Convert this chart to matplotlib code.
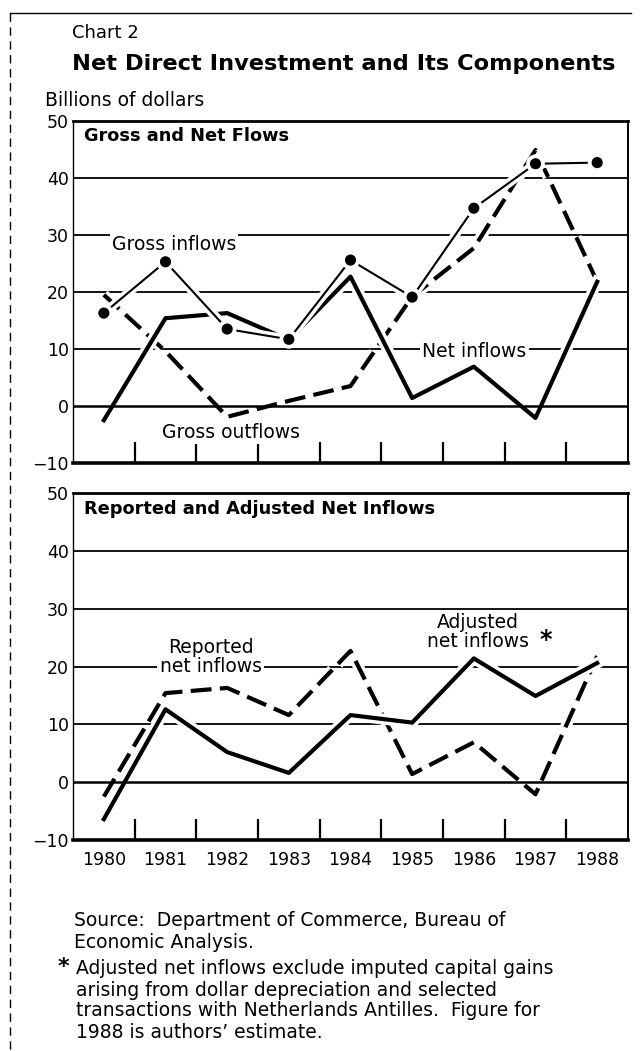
import matplotlib
matplotlib.use("Agg")
from matplotlib import pyplot as plt
from matplotlib import patheffects as pe
from matplotlib.lines import Line2D

plt.rcParams['font.family'] = ['DejaVu Sans']

# --- data (billions of dollars) ---
years = ['1980', '1981', '1982', '1983', '1984', '1985', '1986', '1987', '1988']
gross_inflows = [16.3, 25.3, 13.5, 11.7, 25.6, 19.1, 34.7, 42.5, 42.7]
gross_outflows = [19.5, 9.6, -1.9, 0.9, 3.5, 19.2, 27.7, 44.9, 21.8]
net_inflows = [-2.5, 15.4, 16.3, 11.6, 22.7, 1.4, 6.9, -2.1, 21.8]
adjusted_net = [-6.4, 12.6, 5.2, 1.6, 11.6, 10.3, 21.4, 14.9, 20.6]
reported_net = net_inflows
y_ticks = [-10, 0, 10, 20, 30, 40, 50]
y_labels = ['\u221210', '0', '10', '20', '30', '40', '50']

W, H = 642, 1051
fig = plt.figure(figsize=(W / 100, H / 100), dpi=100)


def px_axes(left, top, right, bottom):
    return fig.add_axes([left / W, 1 - bottom / H, (right - left) / W, (bottom - top) / H])


def halo(lw):
    return [pe.Stroke(linewidth=lw + 5, foreground='white'), pe.Normal()]


def setup(ax, show_years):
    x = list(range(len(years)))
    ax.set_xlim(-0.5, len(years) - 0.5)
    ax.set_ylim(-10, 50)
    ax.set_xticks(x)
    ax.set_xticks([i + 0.5 for i in x[:-1]], minor=True)
    ax.tick_params(axis='x', which='major', length=0, pad=8, labelsize=12.5)
    ax.tick_params(axis='x', which='minor', direction='in', length=15, width=1.6)
    if show_years:
        ax.set_xticklabels(years)
    else:
        ax.set_xticklabels([])
    ax.set_yticks(y_ticks)
    ax.set_yticklabels(y_labels)
    ax.tick_params(axis='y', length=0, pad=3, labelsize=12.5)
    for v in [10, 20, 30, 40]:
        ax.axhline(v, color='black', lw=1.3, zorder=1)
    ax.axhline(0, color='black', lw=1.8, zorder=5)
    ax.spines['left'].set_linewidth(1.0)
    ax.spines['right'].set_linewidth(1.4)
    ax.spines['top'].set_linewidth(2.0)
    ax.spines['bottom'].set_linewidth(2.6)
    for s in ax.spines.values():
        s.set_zorder(6)
    return x


dash = (0, (5, 2))
LW = 3.0

# --- top panel ---
ax1 = px_axes(73, 121, 628, 463)
x = setup(ax1, False)
ax1.plot(x, gross_outflows, color='black', lw=LW, linestyle=dash, zorder=3,
         path_effects=halo(LW))
ax1.plot(x, net_inflows, color='black', lw=LW, zorder=3, path_effects=halo(LW))
ax1.plot(x, gross_inflows, color='black', lw=1.5, marker='o', ms=7, zorder=4,
         path_effects=halo(1.5))
ax1.text(0.02, 0.955, 'Gross and Net Flows', transform=ax1.transAxes, fontsize=12.8,
         fontweight='bold', va='center', ha='left')
box = dict(facecolor='white', edgecolor='none', pad=1.5)
ax1.text(1.14, 28.3, 'Gross inflows', fontsize=13.5, ha='center', va='center',
         zorder=2, bbox=box)
ax1.text(6.01, 9.6, 'Net inflows', fontsize=13.5, ha='center', va='center',
         zorder=2, bbox=box)
ax1.text(2.06, -4.7, 'Gross outflows', fontsize=13.5, ha='center', va='center',
         zorder=2, bbox=box)

# --- bottom panel ---
ax2 = px_axes(73, 493, 628, 840)
x = setup(ax2, True)
ax2.plot(x, reported_net, color='black', lw=LW, linestyle=dash, zorder=3,
         path_effects=halo(LW))
ax2.plot(x, adjusted_net, color='black', lw=LW, zorder=3, path_effects=halo(LW))
ax2.text(0.02, 0.955, 'Reported and Adjusted Net Inflows', transform=ax2.transAxes,
         fontsize=12.8, fontweight='bold', va='center', ha='left')
ax2.text(1.73, 21.6, 'Reported\nnet inflows', fontsize=13.5, ha='center', va='center',
         linespacing=1.0, zorder=2, bbox=box)
ax2.text(6.07, 25.9, 'Adjusted\nnet inflows', fontsize=13.5, ha='center', va='center',
         linespacing=1.0, zorder=2, bbox=box)
ax2.text(7.16, 24.6, '*', fontsize=17, fontweight='bold', ha='center', va='center')

# --- headings and notes ---
fig.text(72 / W, 1 - 33 / H, 'Chart 2', fontsize=13, va='center')
fig.text(72 / W, 1 - 64 / H, 'Net Direct Investment and Its Components', fontsize=16.2,
         fontweight='bold', va='center')
fig.text(45 / W, 1 - 101 / H, 'Billions of dollars', fontsize=13.5, va='center')

notes = [
    (74, 921, 'Source:  Department of Commerce, Bureau of'),
    (74, 943, 'Economic Analysis.'),
    (76, 968, 'Adjusted net inflows exclude imputed capital gains'),
    (76, 990, 'arising from dollar depreciation and selected'),
    (76, 1011, 'transactions with Netherlands Antilles.  Figure for'),
    (76, 1033, '1988 is authors\u2019 estimate.'),
]
for nx, ny, txt in notes:
    fig.text(nx / W, 1 - ny / H, txt, fontsize=13.5, va='center')
fig.text(58 / W, 1 - 967 / H, '*', fontsize=16, fontweight='bold', va='center')

# scan frame
fig.add_artist(Line2D([10 / W, 631 / W], [1 - 13 / H, 1 - 13 / H], color='black', lw=1.0))
fig.add_artist(Line2D([10 / W, 10 / W], [1 - 13 / H, 0], color='black', lw=1.0,
                      linestyle=(0, (6, 4))))

fig.savefig('out.png', dpi=100)
